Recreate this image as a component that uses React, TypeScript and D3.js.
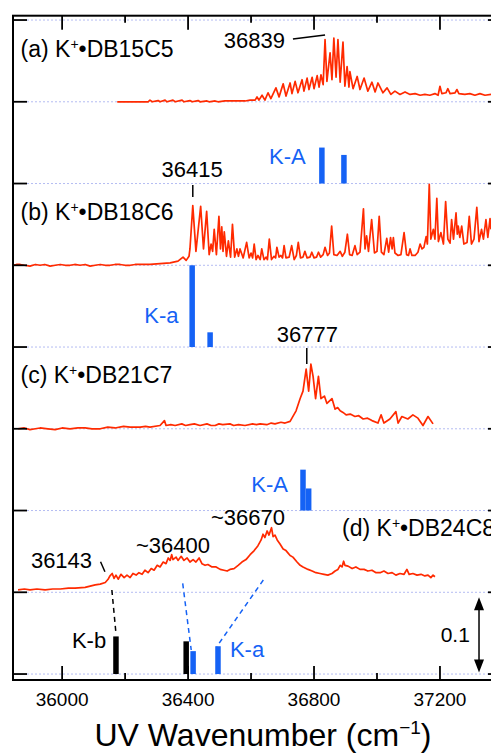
import { useEffect, useRef } from "react";
import * as d3 from "d3";

// axis ticks (cm-1) and the stacking grid (absorbance units)
const xTicks = [36000, 36200, 36400, 36600, 36800, 37000, 37200];
const xTickLabels = [36000, 36400, 36800, 37200];
const yGrid = [0, 0.1, 0.2, 0.3, 0.4, 0.5, 0.6, 0.7, 0.8];

const panelTags = ["(a)", "(b)", "(c)", "(d)"];
const panelNames = ["DB15C5", "DB18C6", "DB21C7", "DB24C8"];
const traceOffsets = [0.7, 0.5, 0.3, 0.1];
const stickOffsets = [0.6, 0.4, 0.2, 0.0];

// UV spectra [wavenumber, intensity]
const spectrumA = [
  [36175, 0.0], [36248, 0.0], [36273, 0.0], [36279, 0.002], [36286, 0.0], [36305, 0.0015], [36311, 0.0],
  [36327, 0.002], [36333, 0.0], [36352, 0.002], [36359, 0.0], [36381, 0.002], [36387, 0.0], [36406, 0.0015],
  [36413, 0.0], [36432, 0.0015], [36438, 0.0], [36460, 0.001], [36467, 0.0], [36486, 0.001], [36495, 0.0],
  [36517, 0.001], [36549, 0.001], [36581, 0.001], [36597, 0.002], [36613, 0.002],
  [36619, 0.006], [36625, 0.002], [36635, 0.008], [36644, 0.002], [36654, 0.011], [36663, 0.004],
  [36679, 0.017], [36689, 0.006], [36702, 0.022], [36711, 0.007], [36724, 0.023], [36730, 0.01],
  [36740, 0.025], [36749, 0.011], [36762, 0.027], [36768, 0.013], [36778, 0.029], [36784, 0.015],
  [36794, 0.03], [36800, 0.016], [36810, 0.032], [36816, 0.018], [36822, 0.033], [36829, 0.021],
  [36835, 0.076], [36841, 0.025], [36851, 0.06], [36857, 0.027], [36863, 0.078], [36870, 0.03],
  [36876, 0.076], [36883, 0.024], [36892, 0.073], [36898, 0.019], [36905, 0.043], [36911, 0.018],
  [36914, 0.037], [36924, 0.016], [36937, 0.031], [36946, 0.015], [36959, 0.029], [36971, 0.013],
  [36984, 0.024], [36994, 0.012], [37003, 0.023], [37019, 0.011], [37032, 0.017], [37044, 0.009],
  [37057, 0.013], [37073, 0.009], [37089, 0.012], [37105, 0.009], [37121, 0.01], [37137, 0.008],
  [37152, 0.009], [37168, 0.008], [37184, 0.01], [37194, 0.008], [37200, 0.019], [37206, 0.01],
  [37219, 0.011], [37225, 0.016], [37232, 0.01], [37248, 0.011], [37254, 0.015], [37260, 0.01],
  [37279, 0.009], [37295, 0.01], [37311, 0.008], [37327, 0.01], [37343, 0.008], [37362, 0.009],
];

const spectrumB = [
  [35844, 0.0], [35855, 0.001], [35867, 0.001], [35880, 0.0], [35898, -0.001], [35915, 0.001], [35930, 0.0],
  [35945, 0.001], [35962, -0.001], [35978, 0.0], [35994, 0.001], [36010, 0.0], [36025, 0.0], [36040, 0.001],
  [36057, 0.0], [36073, 0.001], [36089, -0.001], [36105, 0.0], [36121, 0.001], [36137, 0.0], [36152, 0.0],
  [36168, 0.001], [36184, 0.001], [36200, 0.0], [36216, 0.0], [36232, 0.001], [36248, 0.001],
  [36279, 0.001], [36311, 0.002], [36343, 0.003], [36368, 0.005], [36384, 0.01], [36394, 0.006],
  [36403, 0.011], [36406, 0.02], [36415, 0.073], [36425, 0.017], [36440, 0.072], [36449, 0.02],
  [36459, 0.066], [36467, 0.013], [36473, 0.026], [36478, 0.017], [36483, 0.044], [36490, 0.013],
  [36498, 0.06], [36503, 0.02], [36507, 0.047], [36511, 0.017], [36515, 0.041], [36522, 0.011],
  [36528, 0.03], [36535, 0.01], [36541, 0.05], [36548, 0.01], [36555, 0.02], [36560, 0.011],
  [36565, 0.02], [36575, 0.009], [36586, 0.028], [36594, 0.009], [36600, 0.015], [36605, 0.009],
  [36610, 0.026], [36616, 0.007], [36622, 0.012], [36629, 0.007], [36634, 0.02], [36641, 0.007],
  [36648, 0.01], [36652, 0.007], [36658, 0.032], [36665, 0.007], [36673, 0.011], [36678, 0.009],
  [36682, 0.022], [36689, 0.01], [36695, 0.012], [36700, 0.009], [36705, 0.024], [36711, 0.009],
  [36721, 0.01], [36729, 0.024], [36737, 0.007], [36744, 0.012], [36750, 0.028], [36757, 0.009],
  [36765, 0.01], [36771, 0.017], [36778, 0.009], [36787, 0.01], [36793, 0.016], [36800, 0.009],
  [36808, 0.01], [36814, 0.016], [36821, 0.01], [36829, 0.013], [36835, 0.022], [36843, 0.012],
  [36849, 0.015], [36856, 0.048], [36863, 0.013], [36873, 0.012], [36883, 0.017], [36890, 0.011],
  [36898, 0.016], [36906, 0.038], [36913, 0.013], [36921, 0.012], [36930, 0.024], [36937, 0.013],
  [36946, 0.016], [36957, 0.069], [36962, 0.02], [36967, 0.036], [36973, 0.017], [36983, 0.056],
  [36992, 0.015], [37000, 0.017], [37007, 0.06], [37014, 0.016], [37022, 0.013], [37031, 0.033],
  [37037, 0.016], [37043, 0.034], [37048, 0.02], [37052, 0.034], [37057, 0.015], [37067, 0.012],
  [37076, 0.013], [37086, 0.04], [37094, 0.013], [37100, 0.012], [37105, 0.02], [37111, 0.012],
  [37121, 0.012], [37130, 0.016], [37137, 0.026], [37143, 0.02], [37149, 0.022], [37156, 0.035],
  [37160, 0.026], [37166, 0.099], [37171, 0.032], [37179, 0.044], [37184, 0.032], [37190, 0.082],
  [37195, 0.029], [37203, 0.04], [37211, 0.026], [37218, 0.078], [37225, 0.032], [37232, 0.027],
  [37237, 0.056], [37243, 0.032], [37251, 0.064], [37255, 0.038], [37258, 0.048], [37263, 0.034],
  [37269, 0.048], [37276, 0.026], [37286, 0.028], [37293, 0.06], [37300, 0.026], [37308, 0.032],
  [37317, 0.071], [37324, 0.029], [37332, 0.044], [37338, 0.032], [37346, 0.056], [37352, 0.034],
  [37359, 0.057], [37362, 0.044],
];

const spectrumC = [
  [35860, 0.0], [35880, 0.001], [35898, -0.001], [35915, 0.0], [35930, 0.001], [35955, 0.0], [35978, -0.001],
  [36000, 0.001], [36025, 0.0], [36050, 0.001], [36073, 0.001], [36095, 0.0], [36121, 0.0], [36145, 0.002],
  [36168, 0.001], [36195, 0.003], [36216, 0.002], [36248, 0.002], [36265, 0.003], [36279, 0.002],
  [36311, 0.004], [36325, 0.01], [36330, 0.004], [36345, 0.005], [36359, 0.004], [36380, 0.006],
  [36392, 0.004], [36406, 0.005], [36420, 0.006], [36438, 0.004], [36460, 0.006], [36473, 0.004],
  [36486, 0.004], [36498, 0.006], [36510, 0.005], [36533, 0.006], [36545, 0.004], [36560, 0.005],
  [36581, 0.004], [36605, 0.006], [36617, 0.005], [36629, 0.006], [36650, 0.005], [36664, 0.007],
  [36676, 0.006], [36695, 0.008], [36708, 0.007], [36724, 0.009], [36743, 0.022], [36756, 0.037],
  [36765, 0.046], [36775, 0.073], [36783, 0.046], [36790, 0.079], [36797, 0.064], [36805, 0.037],
  [36814, 0.064], [36822, 0.037], [36833, 0.04], [36841, 0.031], [36857, 0.037], [36867, 0.024],
  [36875, 0.026], [36883, 0.022], [36892, 0.02], [36902, 0.017], [36915, 0.018], [36930, 0.015],
  [36942, 0.016], [36956, 0.012], [36970, 0.013], [36984, 0.01], [37003, 0.007], [37013, 0.017],
  [37022, 0.007], [37041, 0.012], [37060, 0.021], [37067, 0.007], [37079, 0.015], [37098, 0.012],
  [37114, 0.017], [37130, 0.013], [37146, 0.004], [37162, 0.015], [37178, 0.006],
];

const spectrumD = [
  [35860, 0.003], [35880, 0.004], [35898, 0.003], [35920, 0.004], [35946, 0.003], [35970, 0.004],
  [35994, 0.004], [36020, 0.005], [36041, 0.005], [36073, 0.006],
  [36105, 0.009], [36121, 0.01], [36137, 0.012], [36146, 0.016], [36152, 0.02], [36159, 0.023],
  [36165, 0.017], [36171, 0.021], [36178, 0.016], [36187, 0.022], [36197, 0.018], [36206, 0.021],
  [36216, 0.018], [36225, 0.023], [36235, 0.021], [36244, 0.024], [36254, 0.022], [36263, 0.027],
  [36273, 0.024], [36283, 0.029], [36292, 0.027], [36302, 0.033], [36311, 0.031], [36321, 0.037],
  [36330, 0.035], [36337, 0.042], [36343, 0.039], [36348, 0.046], [36352, 0.04], [36362, 0.043],
  [36368, 0.039], [36378, 0.044], [36387, 0.039], [36397, 0.042], [36406, 0.037], [36416, 0.04],
  [36425, 0.037], [36435, 0.042], [36444, 0.035], [36454, 0.033], [36463, 0.034], [36476, 0.031],
  [36489, 0.031], [36502, 0.028], [36514, 0.027], [36524, 0.026], [36533, 0.028], [36546, 0.029],
  [36559, 0.033], [36571, 0.037], [36584, 0.04], [36597, 0.046], [36610, 0.051], [36622, 0.057],
  [36632, 0.064], [36638, 0.071], [36644, 0.067], [36651, 0.075], [36657, 0.07], [36665, 0.079],
  [36670, 0.068], [36676, 0.07], [36683, 0.064], [36692, 0.059], [36702, 0.053], [36711, 0.051],
  [36724, 0.045], [36733, 0.043], [36746, 0.037], [36756, 0.033], [36765, 0.031], [36781, 0.028],
  [36794, 0.026], [36806, 0.024], [36819, 0.023], [36832, 0.022], [36844, 0.021], [36857, 0.023],
  [36867, 0.026], [36876, 0.028], [36883, 0.033], [36889, 0.031], [36894, 0.038], [36898, 0.033],
  [36908, 0.032], [36921, 0.029], [36933, 0.031], [36946, 0.028], [36959, 0.028], [36971, 0.026],
  [36984, 0.027], [36997, 0.024], [37010, 0.024], [37022, 0.026], [37035, 0.023], [37048, 0.024],
  [37060, 0.021], [37073, 0.023], [37086, 0.022], [37095, 0.028], [37102, 0.022], [37114, 0.023],
  [37127, 0.021], [37140, 0.022], [37152, 0.02], [37162, 0.021], [37171, 0.018], [37178, 0.021],
  [37184, 0.019],
];

// calculated transitions [wavenumber, intensity]
const sticksA = [[36825, 0.044], [36895, 0.035]];
const sticksB = [[36413, 0.1], [36470, 0.018]];
const sticksC = [[36765, 0.05], [36783, 0.027]];
const sticksDBlack = [[36171, 0.046], [36394, 0.04]];
const sticksDBlue = [[36416, 0.028], [36495, 0.034]];

const RED = "#ff2a00";
const BLUE = "#1562f5";
const FONT = "'Liberation Sans', Arial, Helvetica, sans-serif";

function App() {
  const ref = useRef(null);

  useEffect(() => {
    const width = 491;
    const height = 753;
    const left = 13, right = 502, top = 15.7, bottom = 680;

    const x = d3.scaleLinear().domain([35844, 37397]).range([left, right]);
    const y = d3.scaleLinear().domain([-0.0073, 0.8053]).range([bottom, top]);

    const svg = d3.select(ref.current);
    svg.selectAll("*").remove();
    svg.attr("width", width).attr("height", height)
      .attr("font-family", FONT);

    svg.append("rect").attr("width", width).attr("height", height).attr("fill", "white");

    // dotted stacking baselines
    svg.append("g")
      .selectAll("line")
      .data(yGrid)
      .join("line")
      .attr("x1", left + 14).attr("x2", right)
      .attr("y1", d => y(d)).attr("y2", d => y(d))
      .attr("stroke", "#b4bcf2")
      .attr("stroke-width", 1)
      .attr("stroke-dasharray", "2,2");

    // spectra
    const spectra = [spectrumA, spectrumB, spectrumC, spectrumD];
    spectra.forEach((data, i) => {
      const line = d3.line()
        .x(d => x(d[0]))
        .y(d => y(traceOffsets[i] + d[1]));
      svg.append("path")
        .attr("d", line(data))
        .attr("fill", "none")
        .attr("stroke", RED)
        .attr("stroke-width", 1.7)
        .attr("stroke-linejoin", "round");
    });

    // stick spectra
    const barW = 5.5;
    const drawSticks = (data, base, color) => {
      svg.append("g")
        .selectAll("rect")
        .data(data)
        .join("rect")
        .attr("x", d => x(d[0]) - barW / 2)
        .attr("width", barW)
        .attr("y", d => y(base + d[1]))
        .attr("height", d => y(base) - y(base + d[1]))
        .attr("fill", color);
    };
    drawSticks(sticksA, stickOffsets[0], BLUE);
    drawSticks(sticksB, stickOffsets[1], BLUE);
    drawSticks(sticksC, stickOffsets[2], BLUE);
    drawSticks(sticksDBlack, stickOffsets[3], "#000");
    drawSticks(sticksDBlue, stickOffsets[3], BLUE);

    // frame
    svg.append("rect")
      .attr("x", left).attr("y", top)
      .attr("width", right - left).attr("height", bottom - top)
      .attr("fill", "none").attr("stroke", "#000").attr("stroke-width", 2);

    // x ticks, top and bottom, pointing inwards
    const tickLen = d => (xTickLabels.includes(d) ? 14 : 7);
    const tg = svg.append("g").attr("stroke", "#000").attr("stroke-width", 1.8);
    tg.selectAll(".tb").data(xTicks).join("line")
      .attr("x1", d => x(d)).attr("x2", d => x(d))
      .attr("y1", bottom).attr("y2", d => bottom - tickLen(d));
    tg.selectAll(".tt").data(xTicks).join("line")
      .attr("x1", d => x(d)).attr("x2", d => x(d))
      .attr("y1", top).attr("y2", d => top + tickLen(d));
    // y ticks, left and right
    tg.selectAll(".yl").data(yGrid).join("line")
      .attr("x1", left).attr("x2", left + 14)
      .attr("y1", d => y(d)).attr("y2", d => y(d));
    tg.selectAll(".yr").data(yGrid).join("line")
      .attr("x1", right).attr("x2", right - 14)
      .attr("y1", d => y(d)).attr("y2", d => y(d));

    svg.append("g")
      .attr("font-size", 19)
      .attr("text-anchor", "middle")
      .selectAll("text")
      .data(xTickLabels)
      .join("text")
      .attr("x", d => x(d))
      .attr("y", 706)
      .text(d => d);

    const title = svg.append("text")
      .attr("x", 263).attr("y", 746)
      .attr("text-anchor", "middle")
      .attr("font-size", 32);
    title.append("tspan").text("UV Wavenumber (cm");
    title.append("tspan").attr("dy", -12).attr("font-size", 19).text("\u22121");
    title.append("tspan").attr("dy", 12).text(")");

    // panel labels
    const panelPos = [[35868, 0.7547], [35868, 0.5554], [35868, 0.3563], [36889, 0.1688]];
    panelPos.forEach((p, i) => {
      const t = svg.append("text")
        .attr("x", x(p[0])).attr("y", y(p[1]))
        .attr("font-size", 23);
      t.append("tspan").text(`${panelTags[i]} K`);
      t.append("tspan").attr("dy", -8).attr("font-size", 14).text("+");
      t.append("tspan").attr("dy", 8).text(`\u2022${panelNames[i]}`);
    });

    const label = (w, v, txt, anchor, color = "#000") =>
      svg.append("text")
        .attr("x", x(w)).attr("y", y(v))
        .attr("text-anchor", anchor)
        .attr("font-size", 22)
        .attr("fill", color)
        .text(txt);

    const seg = (w1, v1, w2, v2, color = "#000", dash = null) =>
      svg.append("line")
        .attr("x1", x(w1)).attr("y1", y(v1))
        .attr("x2", x(w2)).attr("y2", y(v2))
        .attr("stroke", color)
        .attr("stroke-width", 1.5)
        .attr("stroke-dasharray", dash);

    // peak annotations
    label(36708, 0.7654, "36839", "end");
    seg(36733, 0.7768, 36835, 0.7817);
    label(36413, 0.6083, "36415", "middle");
    seg(36415, 0.5982, 36415, 0.5835);
    label(36779, 0.4065, "36777", "middle");
    seg(36777, 0.3988, 36777, 0.3792);
    label(36590, 0.1823, "~36670", "middle");
    label(36352, 0.1484, "~36400", "middle");
    label(35998, 0.1293, "36143", "middle");
    seg(36122, 0.1374, 36136, 0.1251);

    // assignment links
    seg(36158, 0.1028, 36171, 0.0498, "#000", "5,4");
    seg(36383, 0.1109, 36410, 0.0294, BLUE, "5,4");
    seg(36639, 0.115, 36491, 0.0334, BLUE, "5,4");

    label(36657, 0.6239, "K-A", "start", BLUE);
    label(36261, 0.429, "K-a", "start", BLUE);
    label(36601, 0.223, "K-A", "start", BLUE);
    label(36031, 0.0314, "K-b", "start");
    label(36533, 0.0212, "K-a", "start", BLUE);

    // 0.1 scale bar
    const ax = x(37324);
    const yTop = y(0.094), yBot = y(0.002);
    svg.append("line")
      .attr("x1", ax).attr("x2", ax)
      .attr("y1", yTop + 6).attr("y2", yBot - 6)
      .attr("stroke", "#000").attr("stroke-width", 1.5);
    svg.append("path")
      .attr("d", `M${ax},${yTop} l-5,13 l10,0 Z M${ax},${yBot} l-5,-13 l10,0 Z`)
      .attr("fill", "#000");
    svg.append("text")
      .attr("x", x(37295)).attr("y", y(0.0395))
      .attr("text-anchor", "end")
      .attr("font-size", 21)
      .text("0.1");
  }, []);

  return (
    <div style={{ position: "absolute", left: 0, top: 0, width: 491, height: 753, overflow: "hidden" }}>
      <svg ref={ref} style={{ display: "block" }} />
    </div>
  );
}

export default App;
